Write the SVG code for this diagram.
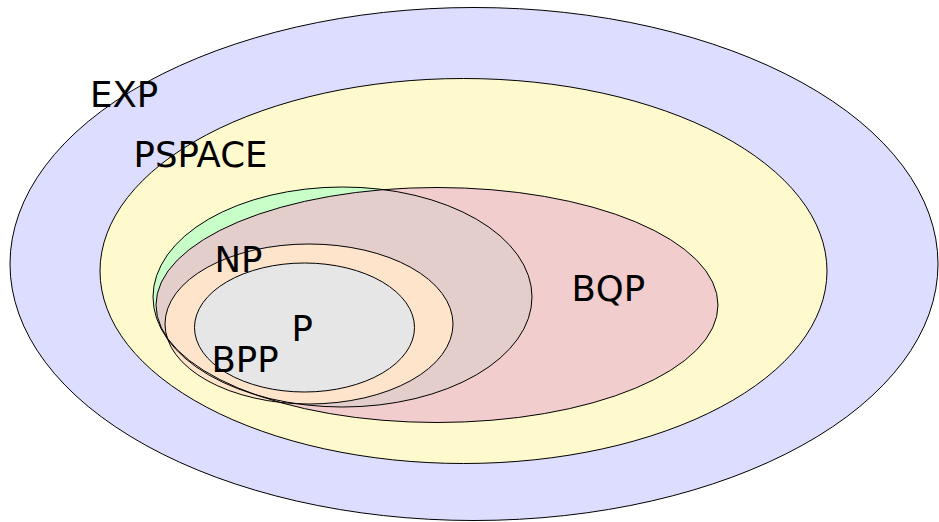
<svg xmlns="http://www.w3.org/2000/svg" xmlns:xlink="http://www.w3.org/1999/xlink" width="939" height="522" viewBox="0 0 939 522">
  <style>
    .outline { fill: none; stroke: #000; stroke-width: 1; }
    .label { font-family: "DejaVu Sans", "Liberation Sans", sans-serif; font-size: 35.5px; fill: #000; }
  </style>
  <defs>
    <ellipse id="exp-shape" cx="474" cy="264" rx="464" ry="256.5"/>
    <ellipse id="pspace-shape" cx="463.5" cy="271" rx="363.5" ry="192.5"/>
    <ellipse id="np-shape" cx="342.5" cy="297" rx="189.5" ry="110"/>
    <ellipse id="bqp-shape" cx="437" cy="305" rx="281" ry="117.5"/>
    <ellipse id="bpp-shape" cx="309" cy="324" rx="144" ry="80"/>
    <ellipse id="p-shape" cx="304.5" cy="327.5" rx="110" ry="64.5"/>
  </defs>
  <g id="EXP"><use xlink:href="#exp-shape" href="#exp-shape" fill="#ddddff"/></g>
  <g id="PSPACE"><use xlink:href="#pspace-shape" href="#pspace-shape" fill="#fffacd"/></g>
  <g id="NP"><use xlink:href="#np-shape" href="#np-shape" fill="#c8ffc8"/></g>
  <g id="BQP"><use xlink:href="#bqp-shape" href="#bqp-shape" fill="rgb(238,189,204)" fill-opacity="0.75"/></g>
  <g id="BPP"><use xlink:href="#bpp-shape" href="#bpp-shape" fill="#ffe4cc"/></g>
  <g id="P"><use xlink:href="#p-shape" href="#p-shape" fill="#e6e6e6"/></g>
  <g id="outlines">
    <use xlink:href="#exp-shape" href="#exp-shape" class="outline"/>
    <use xlink:href="#pspace-shape" href="#pspace-shape" class="outline"/>
    <use xlink:href="#np-shape" href="#np-shape" class="outline"/>
    <use xlink:href="#bqp-shape" href="#bqp-shape" class="outline"/>
    <use xlink:href="#bpp-shape" href="#bpp-shape" class="outline"/>
    <use xlink:href="#p-shape" href="#p-shape" class="outline"/>
  </g>
  <g id="labels">
    <text class="label" x="90" y="107">EXP</text>
    <text class="label" x="133.5" y="167">PSPACE</text>
    <text class="label" x="214.5" y="272">NP</text>
    <text class="label" x="571.5" y="301">BQP</text>
    <text class="label" x="211.5" y="372">BPP</text>
    <text class="label" x="291.5" y="341">P</text>
  </g>
</svg>
